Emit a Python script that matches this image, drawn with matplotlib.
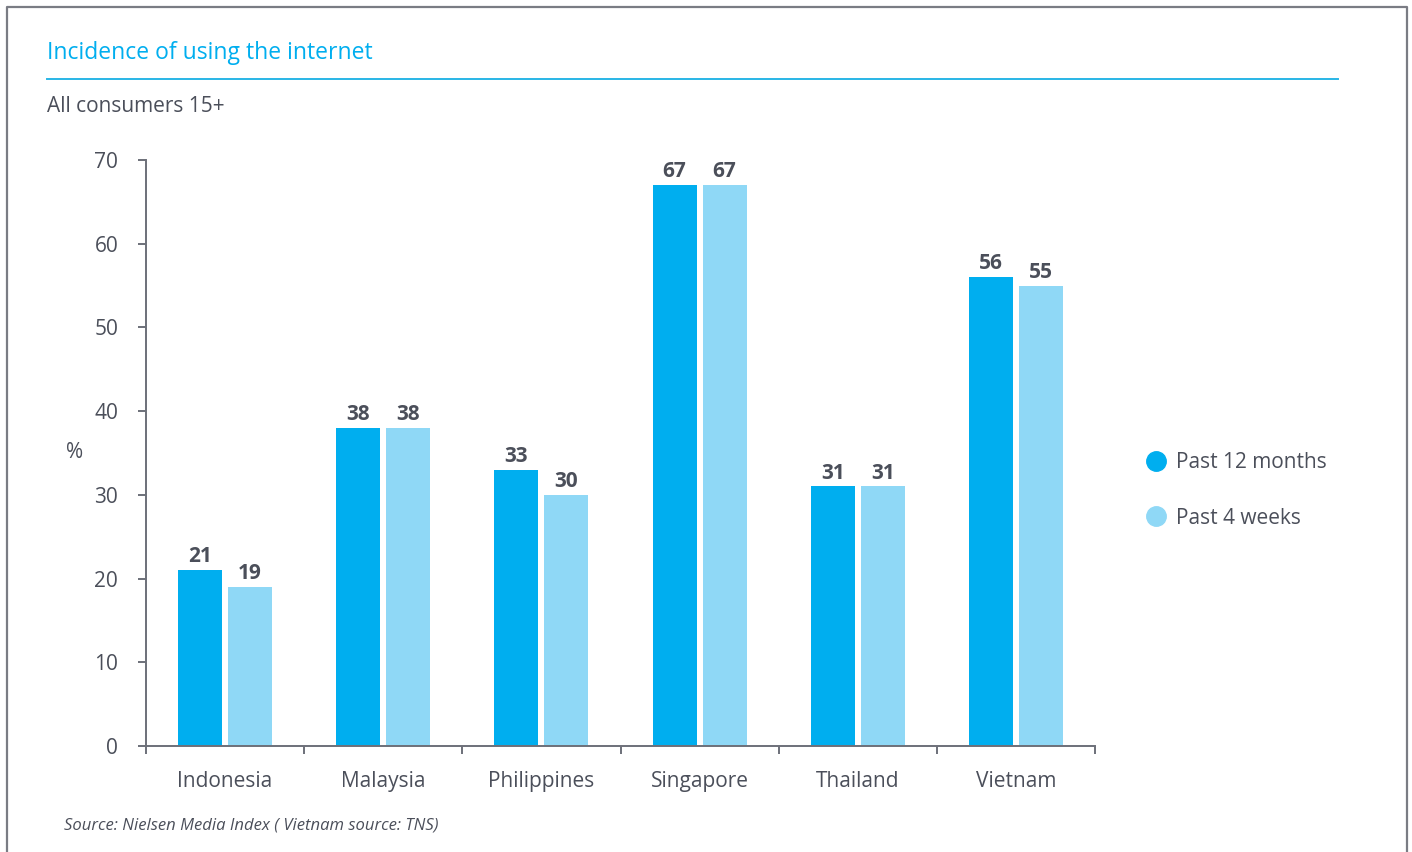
import matplotlib
matplotlib.use("Agg")
import matplotlib.pyplot as plt
from matplotlib.lines import Line2D
import numpy as np

plt.rcParams['font.family'] = ['Open Sans', 'DejaVu Sans']

countries = ["Indonesia", "Malaysia", "Philippines", "Singapore", "Thailand", "Vietnam"]
past_12_months = [21, 38, 33, 67, 31, 56]
past_4_weeks = [19, 38, 30, 67, 31, 55]
series_names = ["Past 12 months", "Past 4 weeks"]
y_ticks = [0, 10, 20, 30, 40, 50, 60, 70]

title = "Incidence of using the internet"
subtitle = "All consumers 15+"
source = "Source: Nielsen Media Index ( Vietnam source: TNS)"

BLUE = "#00aeef"
LIGHT = "#8fd8f6"
TEXT = "#4b4f5a"
AXIS = "#6d7079"

W, H = 1412, 852
fig = plt.figure(figsize=(W / 100, H / 100), dpi=100)

# outer frame (open at the bottom)
frame = Line2D([7 / W, 7 / W, 1407 / W, 1407 / W], [0, 1 - 7 / H, 1 - 7 / H, 0],
               transform=fig.transFigure, color="#7a7c84", lw=1.6)
fig.add_artist(frame)

# header
fig.text(47 / W, 1 - 53 / H, title, color=BLUE, fontsize=16.5, va="center", ha="left")
fig.add_artist(Line2D([47 / W, 1338 / W], [1 - 79 / H, 1 - 79 / H],
                      transform=fig.transFigure, color="#29b6e6", lw=1.4))
fig.text(47 / W, 1 - 106 / H, subtitle, color=TEXT, fontsize=15, va="center", ha="left")

ax = fig.add_axes([146 / W, 1 - 746 / H, (1095 - 146) / W, (746 - 160) / H])
x = np.arange(len(countries))
bw = 0.278
gap = 0.038
b1 = ax.bar(x - (bw + gap) / 2, past_12_months, width=bw, color=BLUE, zorder=2)
b2 = ax.bar(x + (bw + gap) / 2, past_4_weeks, width=bw, color=LIGHT, zorder=2)

for bars, vals in ((b1, past_12_months), (b2, past_4_weeks)):
    for rect, v in zip(bars, vals):
        ax.text(rect.get_x() + rect.get_width() / 2, v + 0.35, f"{v}", ha="center", va="bottom",
                fontsize=15, fontweight="bold", color=TEXT)

ax.set_xlim(-0.5, len(countries) - 0.5)
ax.set_ylim(0, 70)
ax.set_yticks(y_ticks)
ax.tick_params(axis="y", length=6, width=1.4, color=AXIS, labelcolor=TEXT, labelsize=15, pad=14)
ax.set_xticks(np.arange(len(countries) + 1) - 0.5)
ax.set_xticklabels([])
ax.set_xticks(x, minor=True)
ax.set_xticklabels(countries, minor=True)
ax.tick_params(axis="x", which="major", length=6, width=1.4, color=AXIS)
ax.tick_params(axis="x", which="minor", length=0, labelcolor=TEXT, labelsize=15, pad=18)
for s in ("top", "right"):
    ax.spines[s].set_visible(False)
for s in ("left", "bottom"):
    ax.spines[s].set_color(AXIS)
    ax.spines[s].set_linewidth(1.4)

fig.text(75 / W, 1 - 452 / H, "%", color=TEXT, fontsize=15, ha="center", va="center")

handles = [Line2D([], [], marker="o", ls="", markersize=14, color=c) for c in (BLUE, LIGHT)]
fig.legend(handles, series_names, loc="upper left", bbox_to_anchor=(1135 / W, 1 - 444 / H),
           frameon=False, fontsize=15, labelcolor=TEXT, handletextpad=0.35,
           labelspacing=1.65, handlelength=1.2, borderaxespad=0)

fig.text(64 / W, 1 - 826 / H, source, color=TEXT, fontsize=12, style="italic", va="center", ha="left")

fig.savefig("out.png", dpi=100)
